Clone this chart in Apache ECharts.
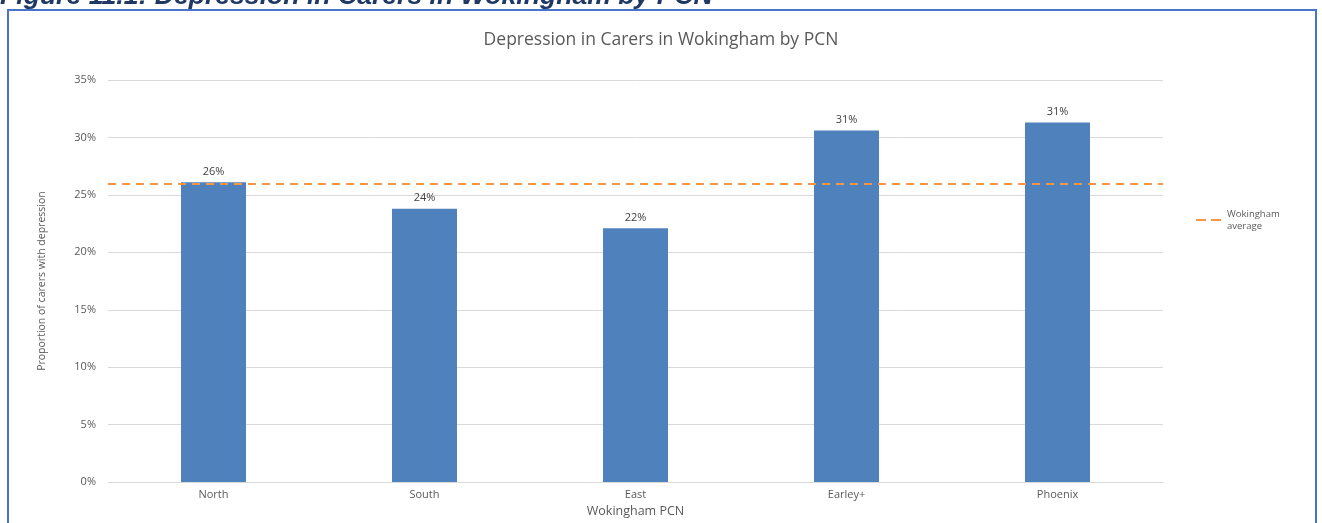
<!DOCTYPE html>
<html>
<head>
<meta charset="utf-8">
<style>
  html, body { margin: 0; padding: 0; background: #ffffff; overflow: hidden; }
  #chart { width: 1322px; height: 523px; }
</style>
<script src="https://cdn.jsdelivr.net/npm/echarts@6/dist/echarts.min.js"></script>
</head>
<body>
<div id="chart"></div>
<script>
// Primary Care Networks in Wokingham
const categories = ['North', 'South', 'East', 'Earley+', 'Phoenix'];
// Proportion of carers with depression in each PCN
const depressionShare = [0.261, 0.238, 0.221, 0.306, 0.313];
// Borough-wide average
const wokinghamAverage = 0.2605;
// Y-axis range and step
const yTicks = { min: 0, max: 0.35, step: 0.05 };

const pct = v => Math.round(v * 100) + '%';
const grey = '#595959';
const avgColor = '#F79646';
const bodyFont = '"Open Sans", sans-serif';

const chart = echarts.init(document.getElementById('chart'), null, { renderer: 'canvas' });

chart.setOption({
  animation: false,
  backgroundColor: '#ffffff',
  textStyle: { fontFamily: bodyFont },
  title: {
    text: 'Depression in Carers in Wokingham by PCN',
    left: 'center',
    top: 26,
    textStyle: { fontFamily: bodyFont, fontSize: 17.5, fontWeight: 'normal', color: grey }
  },
  graphic: [
    // frame around the chart
    {
      type: 'rect',
      shape: { x: 8, y: 10, width: 1308, height: 540 },
      style: { fill: 'none', stroke: '#4775CC', lineWidth: 2 },
      silent: true,
      z: 0
    },
    // figure caption above the frame
    {
      type: 'text',
      x: 0,
      y: 10,
      style: {
        text: 'Figure 11.1: Depression in Carers in Wokingham by PCN',
        font: 'italic bold 26.6px "Liberation Sans", Arial, sans-serif',
        fill: '#1F3864',
        verticalAlign: 'bottom',
        align: 'left'
      },
      silent: true,
      z: 10
    }
  ],
  legend: {
    orient: 'vertical',
    left: 1190,
    top: 203,
    itemWidth: 26,
    itemHeight: 10,
    itemGap: 4,
    data: [{ name: 'Wokingham average', itemStyle: { opacity: 0 } }],
    lineStyle: { color: avgColor, width: 2, type: [10, 5] },
    formatter: () => 'Wokingham\naverage',
    textStyle: { fontFamily: bodyFont, fontSize: 9.5, color: grey, lineHeight: 12 }
  },
  grid: { left: 108, right: 159, top: 80, bottom: 37, containLabel: false },
  xAxis: {
    type: 'category',
    data: categories,
    name: 'Wokingham PCN',
    nameLocation: 'middle',
    nameGap: 22,
    nameTextStyle: { fontFamily: bodyFont, fontSize: 12.5, color: grey },
    axisLine: { lineStyle: { color: '#D9D9D9', width: 1 } },
    axisTick: { show: false },
    axisLabel: { fontFamily: bodyFont, fontSize: 11, color: grey, margin: 7 }
  },
  yAxis: {
    type: 'value',
    min: yTicks.min,
    max: yTicks.max,
    interval: yTicks.step,
    name: 'Proportion of carers with depression',
    nameLocation: 'middle',
    nameGap: 60,
    nameRotate: 90,
    nameTextStyle: { fontFamily: bodyFont, fontSize: 10.5, color: grey },
    axisLine: { show: false },
    axisTick: { show: false },
    axisLabel: { formatter: pct, fontFamily: bodyFont, fontSize: 11, color: grey, margin: 12 },
    splitLine: { lineStyle: { color: '#D9D9D9', width: 1 } }
  },
  series: [
    {
      name: 'Depression in carers',
      type: 'bar',
      data: depressionShare,
      barWidth: 65,
      itemStyle: { color: '#4F81BD' },
      label: {
        show: true,
        position: 'top',
        distance: 5,
        formatter: p => pct(p.value),
        fontFamily: bodyFont,
        fontSize: 11,
        color: '#404040'
      },
      z: 2
    },
    {
      name: 'Wokingham average',
      type: 'line',
      data: [],
      symbol: 'none',
      lineStyle: { color: avgColor, width: 2, type: [8, 6] },
      itemStyle: { color: avgColor },
      markLine: {
        silent: true,
        symbol: ['none', 'none'],
        label: { show: false },
        lineStyle: { color: avgColor, width: 2, type: [8, 6] },
        data: [{ yAxis: wokinghamAverage }]
      },
      z: 3
    }
  ]
});
</script>
</body>
</html>
